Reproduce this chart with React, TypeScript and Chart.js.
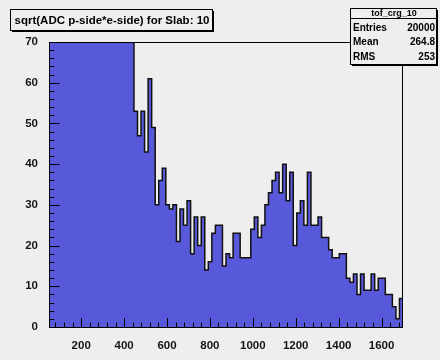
import React, { useEffect, useRef } from "react";
import { Chart, registerables } from "chart.js";

Chart.register(...registerables);

// Histogram definition
const HIST_NAME = "tof_crg_10";
const HIST_TITLE = "sqrt(ADC p-side*e-side) for Slab: 10";
const X_LOW = 50;
const X_HIGH = 1700;
const Y_MAX = 70;

// Axis ticks
const X_TICKS = [200, 400, 600, 800, 1000, 1200, 1400, 1600];
const Y_TICKS = [0, 10, 20, 30, 40, 50, 60, 70];
const X_MINOR_STEP = 40;
const Y_MINOR_STEP = 2;

// Statistics box rows
const STAT_LABELS = ["Entries", "Mean", "RMS"];
const STAT_VALUES = ["20000", "264.8", "253"];

// Bin contents (100 bins from X_LOW to X_HIGH); the first bins run off the top of the frame
const LOW_BINS = [
  2400, 2100, 1800, 1550, 1300, 1100, 950, 800, 700, 600, 520, 450,
  390, 340, 300, 260, 225, 195, 170, 150, 130, 115, 100, 85,
];
const FALLING_BINS = [
  53, 47, 53, 43, 61, 49, 30, 36, 39, 30, 29, 30,
  21, 29, 25, 31, 18, 27, 20, 27, 14, 16, 23, 25,
];
const PEAK_BINS = [
  25, 15, 18, 17, 23, 23, 17, 17, 17, 24, 27, 22, 25, 30, 33,
  36, 38, 33, 40, 31, 38, 20, 28, 31, 25, 38, 25, 25, 27,
];
const TAIL_BINS = [
  22, 22, 19, 17, 17, 18, 18, 12, 11, 13, 8, 13,
  9, 9, 13, 9, 12, 12, 8, 8, 5, 2, 7,
];

const COUNTS = [...LOW_BINS, ...FALLING_BINS, ...PEAK_BINS, ...TAIL_BINS];
const BIN_WIDTH = (X_HIGH - X_LOW) / COUNTS.length;

const FILL = "rgb(88, 88, 218)";
const BG = "#eeeeee";
const FONT = "'Liberation Sans', Arial, Helvetica, sans-serif";

const rootStyle = {
  id: "rootStyle",
  afterDatasetsDraw(chart: any) {
    const { ctx, chartArea } = chart;
    const xs = chart.scales.x;
    const ys = chart.scales.y;
    const L = chartArea.left;
    const R = chartArea.right;
    const T = chartArea.top;
    const B = chartArea.bottom;
    ctx.save();
    ctx.strokeStyle = "#000";
    ctx.lineWidth = 1;

    // ticks on the x axis, pointing into the frame
    ctx.beginPath();
    for (let v = Math.ceil(X_LOW / X_MINOR_STEP) * X_MINOR_STEP; v <= X_HIGH; v += X_MINOR_STEP) {
      const px = Math.round(xs.getPixelForValue(v)) + 0.5;
      const len = X_TICKS.includes(v) ? 9 : 4.5;
      ctx.moveTo(px, B);
      ctx.lineTo(px, B - len);
    }
    // ticks on the y axis
    for (let v = 0; v <= Y_MAX; v += Y_MINOR_STEP) {
      const py = Math.round(ys.getPixelForValue(v)) + 0.5;
      const len = Y_TICKS.includes(v) ? 10.5 : 5.3;
      ctx.moveTo(L, py);
      ctx.lineTo(L + len, py);
    }
    ctx.stroke();

    // frame
    ctx.strokeRect(L + 0.5, T + 0.5, R - L - 1, B - T);
    ctx.restore();
  },
  afterDraw(chart: any) {
    const { ctx } = chart;
    ctx.save();

    // title box with shadow
    const tx = 10, ty = 9, tw = 202, th = 21;
    ctx.fillStyle = "#000";
    ctx.fillRect(tx + 2, ty + 2, tw, th);
    ctx.fillStyle = BG;
    ctx.fillRect(tx, ty, tw, th);
    ctx.strokeStyle = "#000";
    ctx.lineWidth = 1;
    ctx.strokeRect(tx + 0.5, ty + 0.5, tw, th);
    ctx.fillStyle = "#000";
    ctx.font = `bold 11.5px ${FONT}`;
    ctx.textAlign = "center";
    ctx.textBaseline = "middle";
    ctx.fillText(HIST_TITLE, tx + tw / 2 + 1, ty + th / 2 + 1);

    // statistics box with shadow
    const sx = 350, sy = 8, sw = 86, sh = 56;
    ctx.fillStyle = "#000";
    ctx.fillRect(sx + 2, sy + 2, sw, sh);
    ctx.fillStyle = BG;
    ctx.fillRect(sx, sy, sw, sh);
    ctx.strokeRect(sx + 0.5, sy + 0.5, sw, sh);
    ctx.beginPath();
    ctx.moveTo(sx, sy + 10.5);
    ctx.lineTo(sx + sw, sy + 10.5);
    ctx.stroke();

    ctx.fillStyle = "#000";
    ctx.font = `bold 9px ${FONT}`;
    ctx.textAlign = "center";
    ctx.fillText(HIST_NAME, sx + sw / 2 + 1, sy + 5.5);

    ctx.font = `bold 10px ${FONT}`;
    STAT_LABELS.forEach((label, i) => {
      const cy = sy + 20 + i * 14.5;
      ctx.textAlign = "left";
      ctx.fillText(label, sx + 3, cy);
      ctx.textAlign = "right";
      ctx.fillText(STAT_VALUES[i], sx + sw - 1, cy);
    });
    ctx.restore();
  },
};

export default function App() {
  const canvasRef = useRef<HTMLCanvasElement | null>(null);

  useEffect(() => {
    const canvas = canvasRef.current;
    if (!canvas) return;

    const points = COUNTS.map((c, i) => ({ x: X_LOW + i * BIN_WIDTH, y: c }));
    points.push({ x: X_HIGH, y: COUNTS[COUNTS.length - 1] });

    const tickFont = { family: FONT, weight: "bold" as const, size: 11.5 };

    const chart = new Chart(canvas, {
      type: "line",
      data: {
        datasets: [
          {
            label: HIST_NAME,
            data: points,
            stepped: "before",
            fill: "origin",
            backgroundColor: FILL,
            borderColor: "#111",
            borderWidth: 1.5,
            pointRadius: 0,
            clip: 0,
          },
        ],
      },
      options: {
        responsive: false,
        animation: false,
        events: [],
        layout: { padding: { left: 0, right: 37, top: 42, bottom: 0 } },
        plugins: {
          legend: { display: false },
          tooltip: { enabled: false },
          title: { display: false },
        },
        scales: {
          x: {
            type: "linear",
            min: X_LOW,
            max: X_HIGH,
            afterBuildTicks: (s: any) => {
              s.ticks = X_TICKS.map((v) => ({ value: v }));
            },
            afterFit: (s: any) => {
              s.height = 33;
            },
            ticks: {
              font: tickFont,
              color: "#151515",
              padding: 3.5,
              maxRotation: 0,
              autoSkip: false,
              callback: (v: any) => String(v),
            },
            grid: { display: false },
            border: { display: false },
          },
          y: {
            type: "linear",
            min: 0,
            max: Y_MAX,
            afterBuildTicks: (s: any) => {
              s.ticks = Y_TICKS.map((v) => ({ value: v }));
            },
            afterFit: (s: any) => {
              s.width = 49;
            },
            ticks: {
              font: tickFont,
              color: "#151515",
              padding: 3,
              autoSkip: false,
              callback: (v: any) => String(v),
            },
            grid: { display: false },
            border: { display: false },
          },
        },
      },
      plugins: [rootStyle],
    });

    return () => chart.destroy();
  }, []);

  return (
    <div
      style={{
        position: "fixed",
        left: 0,
        top: 0,
        width: 440,
        height: 360,
        background: BG,
      }}
    >
      <canvas ref={canvasRef} width={440} height={360} style={{ display: "block" }} />
    </div>
  );
}
